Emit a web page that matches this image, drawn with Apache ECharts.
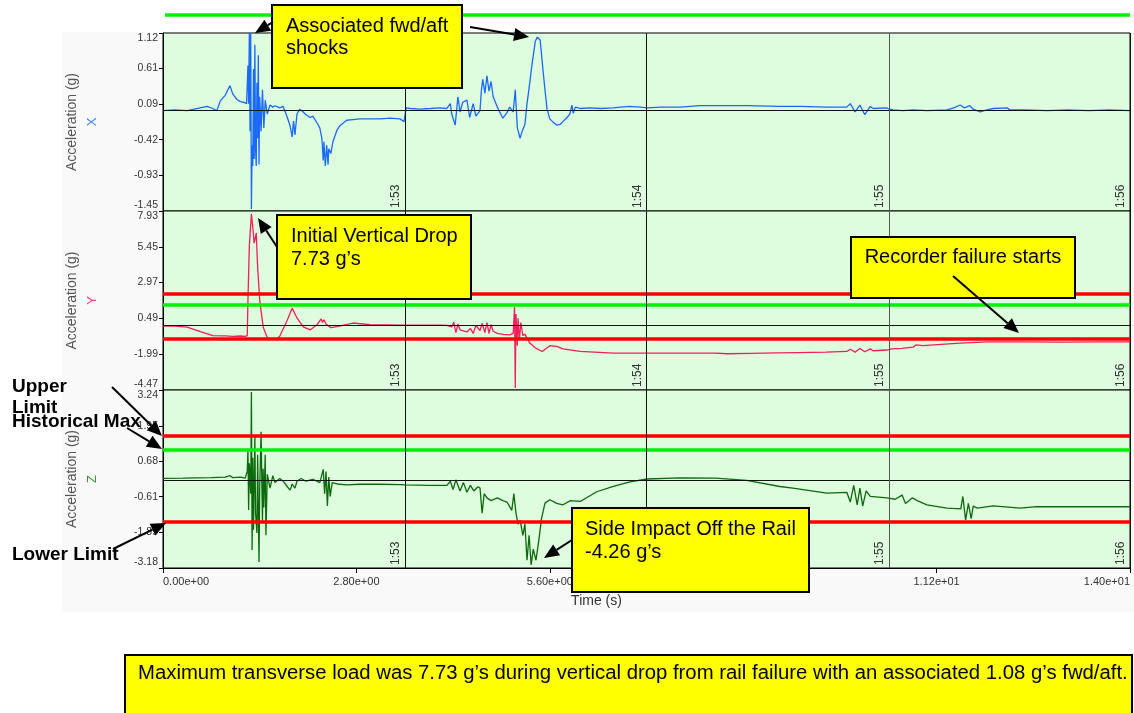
<!DOCTYPE html>
<html><head><meta charset="utf-8">
<script src="https://cdn.jsdelivr.net/npm/echarts@6/dist/echarts.min.js"></script>
<style>html,body{margin:0;padding:0;background:#fff}#c{width:1134px;height:713px}</style>
</head><body><div id="c"></div><script>
// ---- data: [time (s), acceleration (g)] ----
const accelX = [
[0,0.00],[0.17,0.01],[0.35,0.00],[0.54,0.04],[0.64,0.06],[0.72,0.03],[0.78,0.00],[0.83,0.14],[0.90,0.22],[0.97,0.36],
[1.01,0.24],[1.07,0.16],[1.12,0.13],[1.17,0.12],[1.21,0.10],[1.23,0.65],[1.24,0.10],[1.25,1.12],[1.26,-0.30],[1.27,1.12],
[1.28,-1.42],[1.29,-0.50],[1.30,-0.80],[1.31,0.60],[1.32,-0.70],[1.33,0.95],[1.34,-0.55],[1.35,-0.80],[1.36,0.40],[1.37,-0.40],
[1.38,0.80],[1.39,-0.78],[1.40,0.20],[1.42,-0.30],[1.44,0.30],[1.46,-0.25],[1.48,0.15],[1.51,-0.05],[1.55,0.08],[1.59,0.05],
[1.62,0.07],[1.69,0.04],[1.74,0.06],[1.80,-0.10],[1.84,-0.22],[1.87,-0.38],[1.89,-0.15],[1.91,-0.35],[1.94,-0.05],[1.98,0.02],
[2.03,-0.02],[2.07,-0.06],[2.13,-0.10],[2.17,-0.08],[2.23,-0.18],[2.27,-0.25],[2.30,-0.40],[2.32,-0.72],[2.33,-0.45],[2.35,-0.80],
[2.37,-0.50],[2.39,-0.78],[2.40,-0.55],[2.43,-0.62],[2.46,-0.45],[2.52,-0.28],[2.56,-0.22],[2.66,-0.14],[2.75,-0.13],[2.85,-0.12],
[3.00,-0.12],[3.14,-0.12],[3.29,-0.11],[3.43,-0.12],[3.49,-0.16],[3.50,-0.18],[3.52,0.04],[3.58,0.03],[3.72,0.02],[3.87,0.03],
[4.01,0.04],[4.11,0.03],[4.16,0.10],[4.18,-0.05],[4.23,-0.21],[4.27,0.20],[4.30,-0.02],[4.34,0.12],[4.40,0.15],[4.44,-0.10],
[4.49,0.10],[4.53,-0.08],[4.59,0.00],[4.61,0.30],[4.63,0.45],[4.66,0.25],[4.69,0.50],[4.72,0.28],[4.75,0.42],[4.78,0.20],
[4.84,0.05],[4.92,-0.11],[4.98,-0.03],[5.02,0.05],[5.07,-0.02],[5.10,0.30],[5.13,-0.25],[5.17,-0.40],[5.20,-0.30],[5.24,-0.20],
[5.27,0.10],[5.31,0.40],[5.34,0.65],[5.39,1.00],[5.42,1.06],[5.46,1.02],[5.50,0.60],[5.53,0.30],[5.56,0.02],[5.60,-0.12],
[5.65,-0.17],[5.70,-0.21],[5.75,-0.20],[5.79,-0.16],[5.85,-0.10],[5.89,-0.05],[5.92,0.08],[5.94,-0.04],[5.97,0.05],[6.04,0.03],
[6.18,0.04],[6.33,0.03],[6.52,0.04],[6.62,0.05],[6.76,0.06],[6.91,0.05],[7.01,0.04],[7.20,0.05],[7.49,0.05],[7.63,0.06],
[7.78,0.07],[8.11,0.07],[8.45,0.07],[8.93,0.06],[9.22,0.06],[9.61,0.05],[9.90,0.05],[9.95,0.10],[10.02,-0.02],[10.09,0.08],
[10.16,-0.06],[10.24,0.06],[10.28,0.03],[10.48,0.04],[10.51,0.02],[10.57,0.01],[10.71,0.00],[10.86,0.01],[11.06,0.00],[11.35,0.01],
[11.45,0.04],[11.54,0.08],[11.60,0.04],[11.68,0.07],[11.73,0.02],[11.83,-0.02],[11.93,0.01],[12.02,0.03],[12.22,0.04],[12.26,0.01],
[12.50,0.01],[12.80,0.00],[13.10,0.01],[13.40,0.00],[13.70,0.01],[14.00,0.00]
];
const accelY = [
[0,-0.04],[0.17,-0.05],[0.35,-0.12],[0.54,-0.43],[0.72,-0.70],[0.90,-0.72],[1.01,-0.75],[1.12,-0.73],[1.19,-0.76],[1.22,-0.70],
[1.23,1.76],[1.25,5.5],[1.28,7.73],[1.30,6.8],[1.32,5.7],[1.35,6.4],[1.37,4.05],[1.40,1.76],[1.45,-0.10],[1.51,-0.85],
[1.59,-1.00],[1.65,-0.90],[1.69,-0.75],[1.80,0.38],[1.87,1.20],[1.94,0.52],[2.03,-0.10],[2.13,-0.31],[2.23,0.05],[2.29,0.45],
[2.31,0.20],[2.33,0.40],[2.36,0.10],[2.43,-0.15],[2.52,-0.08],[2.75,0.17],[3.00,0.05],[3.43,0.03],[3.70,0.02],[4.00,0.03],
[4.11,0.01],[4.18,-0.10],[4.21,0.24],[4.24,-0.50],[4.27,0.10],[4.30,-0.30],[4.40,-0.45],[4.45,-0.20],[4.49,-0.55],[4.53,0.00],
[4.59,-0.35],[4.62,0.15],[4.66,-0.50],[4.69,0.20],[4.72,-0.55],[4.75,0.05],[4.78,-0.40],[4.84,-0.55],[4.92,-0.62],[5.02,-0.65],
[5.07,-0.55],[5.09,1.28],[5.10,-4.33],[5.11,0.80],[5.13,-1.40],[5.14,0.50],[5.16,-1.00],[5.18,0.20],[5.21,-0.70],[5.24,-0.60],
[5.31,-1.22],[5.39,-1.55],[5.49,-1.80],[5.60,-1.40],[5.70,-1.45],[5.79,-1.62],[6.04,-1.80],[6.52,-1.91],[7.00,-1.91],[7.50,-1.92],
[8.00,-1.91],[8.17,-1.96],[8.50,-1.93],[8.90,-1.90],[9.20,-1.88],[9.60,-1.85],[9.90,-1.80],[9.95,-1.65],[10.02,-1.85],[10.09,-1.60],
[10.16,-1.82],[10.24,-1.62],[10.28,-1.75],[10.48,-1.70],[10.55,-1.62],[10.70,-1.58],[10.86,-1.50],[10.90,-1.35],[11.00,-1.40],[11.54,-1.22],
[11.93,-1.14],[12.50,-1.14],[13.00,-1.15],[13.47,-1.14],[14.00,-1.14]
];
const accelZ = [
[0,0.05],[0.29,0.06],[0.50,0.07],[0.70,0.08],[0.90,0.10],[0.97,0.15],[1.01,0.08],[1.12,0.10],[1.19,0.06],[1.22,0.30],
[1.23,1.08],[1.24,-1.09],[1.25,0.60],[1.27,-0.50],[1.28,3.17],[1.29,-2.53],[1.30,0.80],[1.31,-1.80],[1.33,1.55],[1.34,-1.20],
[1.36,-1.92],[1.37,0.90],[1.39,-2.96],[1.40,-0.30],[1.42,1.73],[1.44,-1.50],[1.45,0.40],[1.46,-1.00],[1.48,0.90],[1.49,-2.00],
[1.51,0.20],[1.55,-0.30],[1.59,0.15],[1.62,-0.10],[1.69,0.05],[1.74,-0.05],[1.80,-0.25],[1.84,-0.37],[1.87,-0.15],[1.91,-0.30],
[1.94,-0.05],[2.00,0.05],[2.07,-0.05],[2.17,0.02],[2.27,-0.10],[2.32,0.38],[2.34,-0.50],[2.36,0.30],[2.38,-0.94],[2.40,0.10],
[2.42,-0.60],[2.45,-0.10],[2.52,-0.15],[2.66,-0.18],[2.85,-0.16],[3.14,-0.16],[3.43,-0.17],[3.50,-0.18],[3.87,-0.20],[4.11,-0.20],
[4.16,-0.05],[4.20,-0.35],[4.24,0.00],[4.30,-0.40],[4.35,-0.10],[4.40,-0.45],[4.45,-0.20],[4.50,-0.40],[4.56,-0.25],[4.59,-0.30],
[4.62,-1.20],[4.65,-0.50],[4.69,-0.65],[4.75,-0.75],[4.84,-0.65],[4.92,-0.75],[4.98,-0.80],[5.05,-1.10],[5.08,-0.50],[5.11,-1.20],
[5.14,-1.60],[5.17,-1.45],[5.21,-2.00],[5.24,-1.60],[5.27,-2.90],[5.30,-2.00],[5.33,-3.07],[5.36,-2.50],[5.40,-2.90],[5.44,-2.20],
[5.48,-1.40],[5.53,-0.84],[5.60,-0.72],[5.70,-0.85],[5.79,-0.90],[5.90,-0.75],[6.04,-0.78],[6.28,-0.43],[6.52,-0.24],[6.76,-0.07],
[7.01,0.03],[7.49,0.07],[8.00,0.06],[8.45,-0.02],[8.93,-0.24],[9.12,-0.30],[9.61,-0.48],[9.90,-0.45],[9.95,-0.80],[10.00,-0.20],
[10.05,-0.90],[10.09,-0.30],[10.13,-0.95],[10.18,-0.40],[10.24,-0.60],[10.48,-0.65],[10.60,-0.70],[10.70,-0.55],[10.75,-0.85],[10.85,-0.65],
[10.92,-0.75],[11.06,-0.90],[11.35,-1.02],[11.55,-1.05],[11.58,-0.60],[11.62,-1.45],[11.66,-0.85],[11.70,-1.40],[11.73,-0.95],[11.79,-1.02],
[12.02,-0.94],[12.41,-1.02],[12.65,-0.97],[13.00,-0.97],[13.50,-0.97],[14.00,-0.97]
];
const timeTicks = [0, 2.8, 5.6, 8.4, 11.2, 14];
const ticksX = [1.12, 0.61, 0.09, -0.42, -0.93, -1.45];
const ticksY = [7.93, 5.45, 2.97, 0.49, -1.99, -4.47];
const ticksZ = [3.24, 1.95, 0.68, -0.61, -1.89, -3.18];
const minuteTimes = [3.5, 7.0, 10.51, 14.0];
const minuteLabels = ['1:53', '1:54', '1:55', '1:56'];
// limit lines: [upper limit, historical max, lower limit] (null = not shown)
const limitsX = [null, 1.38, null];
const limitsY = [2.2, 1.44, -0.95];
const limitsZ = [1.6, 1.08, -1.5];
const channelNames = ['X', 'Y', 'Z'];

// ---- styling / layout ----
const FONT = 'Arial, "Liberation Sans", sans-serif';
const lineColors = ['#1a6af5', '#f01e5e', '#0c6a0c'];
const letterColors = ['#3a84f0', '#f0407a', '#3a963a'];
const limColors = ['#ff0000', '#00f000', '#ff0000'];
const panels = [
  {data: accelX, ticks: ticksX, limits: limitsX, top: 33, height: 178},
  {data: accelY, ticks: ticksY, limits: limitsY, top: 211, height: 179},
  {data: accelZ, ticks: ticksZ, limits: limitsZ, top: 390, height: 178}
];
function sci(v) {
  const s = Number(v).toExponential(2);
  const parts = s.split('e');
  let d = parts[1].slice(1);
  if (d.length < 2) d = '0' + d;
  return parts[0] + 'e' + parts[1][0] + d;
}
function inRange(p, v) { return v <= p.ticks[0] && v >= p.ticks[p.ticks.length - 1]; }

const grids = panels.map(p => ({
  left: 163, top: p.top, width: 967, height: p.height, show: true,
  backgroundColor: '#defcde', borderColor: '#000', borderWidth: 1
}));

const xAxes = panels.map((p, i) => {
  const last = i === 2;
  return {
    gridIndex: i, type: 'value', min: 0, max: 14,
    axisLine: {show: last, onZero: false, lineStyle: {color: '#000', width: 1}},
    axisTick: {show: last, customValues: timeTicks, length: 5, lineStyle: {color: '#000'}},
    axisLabel: {show: last, customValues: timeTicks, formatter: sci, fontSize: 11, color: '#333',
      fontFamily: FONT, margin: 8, alignMinLabel: 'left', alignMaxLabel: 'right'},
    splitLine: {show: false},
    name: last ? 'Time (s)' : '', nameLocation: 'middle', nameGap: 26,
    nameTextStyle: {fontSize: 14, color: '#333', fontFamily: FONT, padding: [0, 100, 0, 0]}
  };
});

const yAxes = panels.map((p, i) => ({
  gridIndex: i, type: 'value', min: p.ticks[p.ticks.length - 1], max: p.ticks[0],
  axisLine: {show: true, lineStyle: {color: '#000', width: 1}},
  axisTick: {show: true, customValues: p.ticks, length: 4, lineStyle: {color: '#000'}},
  axisLabel: {customValues: p.ticks, formatter: v => Number(v).toFixed(2), fontSize: 10.5, color: '#333',
    fontFamily: FONT, margin: 5, verticalAlignMinLabel: 'top', verticalAlignMaxLabel: 'bottom'},
  splitLine: {show: false},
  name: '{n|Acceleration (g)}\n{c|' + channelNames[i] + '}',
  nameLocation: 'middle', nameRotate: 90, nameGap: 61,
  nameTextStyle: {rich: {
    n: {fontSize: 14, color: '#555', fontFamily: FONT, lineHeight: 20},
    c: {fontSize: 13, color: letterColors[i], fontFamily: FONT, lineHeight: 20}
  }}
}));

const series = panels.map((p, i) => {
  const ml = [{yAxis: 0, lineStyle: {color: '#111', width: 1, type: 'solid'}}];
  p.limits.forEach((v, k) => {
    if (v !== null && inRange(p, v)) ml.push({yAxis: v, lineStyle: {color: limColors[k], width: 3.5, type: 'solid'}});
  });
  minuteTimes.forEach((t, k) => {
    ml.push({xAxis: t, lineStyle: {color: k === 2 ? '#555' : '#111', width: 1, type: 'solid'},
      label: {show: true, formatter: minuteLabels[k], position: 'insideStartTop', color: '#333',
        fontSize: 12, fontFamily: FONT, distance: 3}});
  });
  return {
    type: 'line', xAxisIndex: i, yAxisIndex: i, data: p.data, showSymbol: false,
    lineStyle: {color: lineColors[i], width: 1.3}, itemStyle: {color: lineColors[i]}, animation: false,
    markLine: {silent: true, symbol: ['none', 'none'], animation: false, label: {show: false}, data: ml}
  };
});

const chart = echarts.init(document.getElementById('c'), null, {renderer: 'canvas'});
chart.setOption({
  animation: false,
  grid: grids, xAxis: xAxes, yAxis: yAxes, series: series
});

// ---- annotations ----
const g = [];
g.push({type: 'rect', z: -1, silent: true, shape: {x: 62, y: 32, width: 1072, height: 580}, style: {fill: '#f9f9f9'}});
// limit lines that fall outside a panel's axis range, placed through the panel's own scales
panels.forEach((p, i) => {
  p.limits.forEach((v, k) => {
    if (v === null || inRange(p, v)) return;
    const y = chart.convertToPixel({yAxisIndex: i}, v);
    const x0 = chart.convertToPixel({xAxisIndex: i}, 0);
    const x1 = chart.convertToPixel({xAxisIndex: i}, 14);
    g.push({type: 'line', z: 5, shape: {x1: x0 + 2, y1: y, x2: x1, y2: y}, style: {stroke: limColors[k], lineWidth: 3.5}});
  });
});
function box(x, y, w, h) {
  g.push({type: 'rect', z: 100, shape: {x: x, y: y, width: w, height: h}, style: {fill: '#ffff00', stroke: '#000', lineWidth: 2}});
}
function txt(s, x, y, size, opts) {
  opts = opts || {};
  const align = opts.align || 'left';
  g.push({type: 'text', z: 101, x: x, y: y, scaleX: opts.scaleX || 1, style: {
    text: s, font: (opts.bold ? 'bold ' : '') + size + 'px ' + FONT, fill: '#000',
    align: align, textAlign: align, verticalAlign: 'middle', textVerticalAlign: 'middle'}});
}
function arrow(x1, y1, x2, y2) {
  const dx = x2 - x1, dy = y2 - y1, L = Math.sqrt(dx * dx + dy * dy);
  const ux = dx / L, uy = dy / L, hl = 15, hw = 6.5;
  const bx = x2 - ux * hl, by = y2 - uy * hl;
  g.push({type: 'line', z: 102, shape: {x1: x1, y1: y1, x2: bx, y2: by}, style: {stroke: '#000', lineWidth: 2}});
  g.push({type: 'polygon', z: 102, shape: {points: [[x2, y2], [bx - uy * hw, by + ux * hw], [bx + uy * hw, by - ux * hw]]}, style: {fill: '#000'}});
}
box(272, 5, 190, 83);
txt('Associated fwd/aft', 286, 26, 20);
txt('shocks', 286, 48, 20);
arrow(273, 22, 255, 33);
arrow(470, 27, 529, 37);

box(277, 215, 194, 84);
txt('Initial Vertical Drop', 291, 236, 20);
txt('7.73 g\u2019s', 291, 259, 20);
arrow(277, 247, 258, 218);

box(851, 237, 224, 61);
txt('Recorder failure starts', 963, 257, 20, {align: 'center'});
arrow(953, 276, 1019, 333);

box(572, 508, 237, 84);
txt('Side Impact Off the Rail', 585, 529, 20);
txt('-4.26 g\u2019s', 585, 552, 20);
arrow(572, 540, 544, 558);

txt('Upper', 12, 387, 19, {bold: true});
txt('Limit', 12, 408, 19, {bold: true});
txt('Historical Max', 12, 422, 19, {bold: true});
txt('Lower Limit', 12, 555, 19, {bold: true});
arrow(112, 387, 162, 436);
arrow(127, 428, 162, 449);
arrow(113, 549, 166, 523);

box(125, 655, 1007, 62);
txt('Maximum transverse load was 7.73 g\u2019s during vertical drop from rail failure with an associated 1.08 g\u2019s fwd/aft.', 138, 673, 20, {scaleX: 1.016});

chart.setOption({graphic: {elements: g}});
</script></body></html>
